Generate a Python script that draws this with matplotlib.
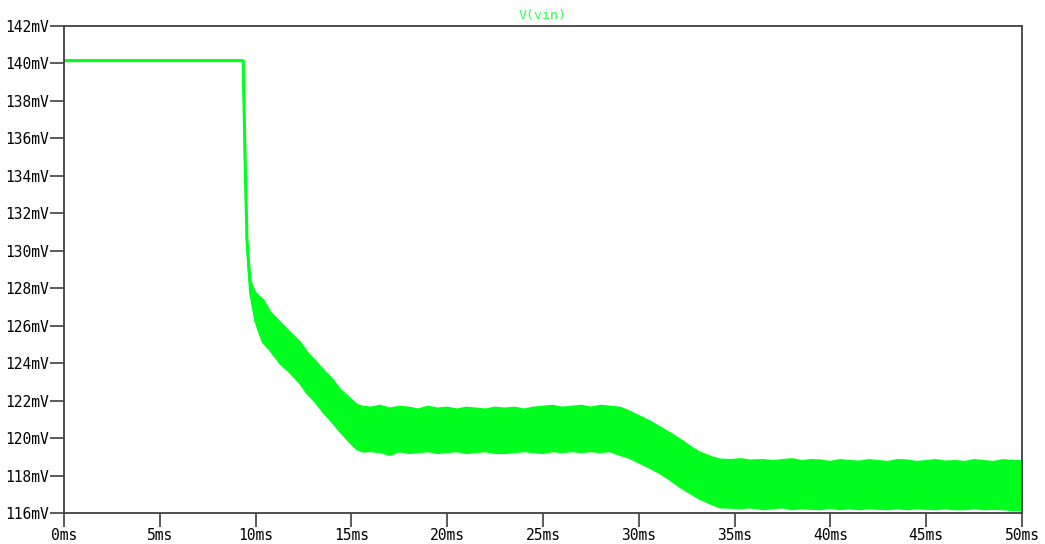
"""
LTspice style transient plot of V(vin)
"""
import matplotlib
matplotlib.use("Agg")
import matplotlib.pyplot as plt
from matplotlib.ticker import FuncFormatter

# time points (ms) and envelope of the ripple band (mV)
t_ms = [0.0, 9.35, 9.40, 9.45, 9.50, 9.55, 9.62, 9.71, 9.85, 9.97, 10.2, 10.39,
        10.75, 11.27, 11.8, 12.3, 12.68, 13.1, 13.52, 14.0, 14.41, 14.9, 15.29,
        15.6, 16.0, 16.5, 17.0, 17.5, 18.0, 18.5, 19.0, 19.5, 20.0, 20.5, 21.0,
        21.5, 22.0, 22.5, 23.0, 23.5, 24.0, 24.5, 25.0, 25.5, 26.0, 26.5, 27.0,
        27.5, 28.0, 28.5, 29.02, 29.5, 30.06, 30.6, 31.1, 31.6, 32.15, 32.7,
        33.19, 33.87, 34.24, 34.8, 35.3, 35.8, 36.5, 37.0, 37.5, 38.0, 38.5,
        39.0, 39.5, 40.0, 40.5, 41.0, 41.5, 42.0, 42.5, 43.0, 43.5, 44.0, 44.5,
        45.0, 45.5, 46.0, 46.5, 47.0, 47.5, 48.0, 48.5, 49.0, 49.5, 50.0]
v_hi = [140.15, 140.15, 137.6, 135.0, 132.7, 130.6, 129.6, 128.4, 128.0, 127.75,
        127.5, 127.35, 126.7, 126.15, 125.6, 125.1, 124.55, 124.1, 123.6, 123.1,
        122.55, 122.1, 121.75, 121.65, 121.6, 121.7, 121.55, 121.65, 121.6,
        121.5, 121.65, 121.55, 121.6, 121.5, 121.6, 121.55, 121.5, 121.6, 121.55,
        121.6, 121.5, 121.6, 121.65, 121.7, 121.6, 121.65, 121.7, 121.6, 121.7,
        121.65, 121.6, 121.4, 121.12, 120.85, 120.55, 120.25, 119.9, 119.5,
        119.2, 118.93, 118.83, 118.8, 118.85, 118.78, 118.8, 118.75, 118.8,
        118.85, 118.75, 118.8, 118.78, 118.7, 118.8, 118.75, 118.72, 118.8,
        118.75, 118.7, 118.8, 118.78, 118.7, 118.75, 118.8, 118.72, 118.75,
        118.7, 118.8, 118.75, 118.7, 118.8, 118.75, 118.75]
v_lo = [140.15, 140.15, 137.6, 135.0, 132.7, 130.4, 129.2, 127.8, 127.0, 126.3,
        125.6, 125.1, 124.7, 124.0, 123.5, 122.95, 122.4, 121.95, 121.4, 120.85,
        120.35, 119.8, 119.4, 119.28, 119.3, 119.25, 119.1, 119.3, 119.2, 119.25,
        119.3, 119.2, 119.25, 119.3, 119.2, 119.25, 119.3, 119.2, 119.2, 119.25,
        119.3, 119.25, 119.2, 119.3, 119.25, 119.3, 119.25, 119.3, 119.25, 119.3,
        119.1, 118.95, 118.67, 118.4, 118.13, 117.8, 117.39, 117.05, 116.75,
        116.45, 116.3, 116.28, 116.25, 116.3, 116.2, 116.25, 116.3, 116.2, 116.25,
        116.22, 116.2, 116.28, 116.2, 116.25, 116.2, 116.25, 116.22, 116.2,
        116.25, 116.2, 116.25, 116.22, 116.2, 116.25, 116.2, 116.2, 116.25,
        116.2, 116.22, 116.2, 116.15, 116.15]

x_ticks = [0, 5, 10, 15, 20, 25, 30, 35, 40, 45, 50]
y_ticks = [116, 118, 120, 122, 124, 126, 128, 130, 132, 134, 136, 138, 140, 142]

trace = "#00ff1e"
font = "DejaVu Sans Mono"

fig = plt.figure(figsize=(10.45, 5.44), dpi=100)
ax = fig.add_axes([64 / 1045, 1 - 513 / 544, 958 / 1045, 487 / 544])

ax.fill_between(t_ms, v_lo, v_hi, color=trace, linewidth=0)
ax.plot(t_ms, v_hi, color=trace, lw=2.2, solid_capstyle="butt")
ax.plot(t_ms, v_lo, color=trace, lw=1.5, solid_capstyle="butt")

ax.set_xlim(0, 50)
ax.set_ylim(116, 142)
ax.set_xticks(x_ticks)
ax.set_yticks(y_ticks)
ax.xaxis.set_major_formatter(FuncFormatter(lambda v, p: "%dms" % v))
ax.yaxis.set_major_formatter(FuncFormatter(lambda v, p: "%dmV" % v))
ax.tick_params(direction="out", length=10, width=1.2, color="#404040",
               labelsize=10.5, pad=1)
for lab in ax.get_xticklabels() + ax.get_yticklabels():
    lab.set_family(font)
for s in ax.spines.values():
    s.set_color("#404040")
    s.set_linewidth(1.3)

ax.set_title("V(vin)", color="#33ff55", family=font, fontsize=9.5, pad=5)

plt.savefig("out.png", dpi=100)
